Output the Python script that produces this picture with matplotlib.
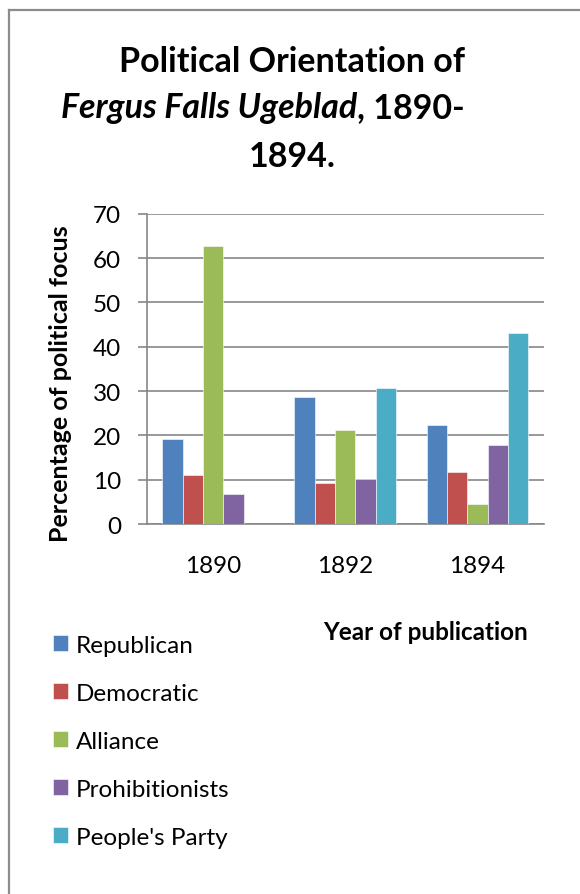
import numpy as np
import matplotlib
matplotlib.use("Agg")
import matplotlib.pyplot as plt
from matplotlib.lines import Line2D

plt.rcParams["font.family"] = ["Lato", "DejaVu Sans"]

years = ["1890", "1892", "1894"]
parties = ["Republican", "Democratic", "Alliance", "Prohibitionists", "People's Party"]
republican = [19.2, 28.6, 22.3]
democratic = [11.1, 9.3, 11.8]
alliance = [62.8, 21.2, 4.5]
prohibitionists = [6.8, 10.2, 17.9]
peoples_party = [0.0, 30.6, 43.2]
colors = ["#4F81BD", "#C0504D", "#9BBB59", "#8064A2", "#4BACC6"]

W, H = 580, 895
FS = 17.5
fig = plt.figure(figsize=(W / 100, H / 100), dpi=100)


def px(x, y):
    # pixel coords (top-left origin) -> figure fraction
    return x / W, 1 - y / H


# outer border (right/bottom edges fall outside the image)
fig.add_artist(Line2D([9 / W, 9 / W], [0, 1 - 11 / H], transform=fig.transFigure,
                      color="#8c8c8c", lw=1.6))
fig.add_artist(Line2D([9 / W, 1], [1 - 11 / H, 1 - 11 / H], transform=fig.transFigure,
                      color="#8c8c8c", lw=1.6))

ax_l, ax_t, ax_r, ax_b = 147, 214.7, 543.5, 525
ax = fig.add_axes([ax_l / W, 1 - ax_b / H, (ax_r - ax_l) / W, (ax_b - ax_t) / H])

series = [republican, democratic, alliance, prohibitionists, peoples_party]
x = np.arange(len(years))
bw = 1 / 6.5
for i, (vals, c, name) in enumerate(zip(series, colors, parties)):
    ax.bar(x + (i - 2) * bw, vals, width=bw, color=c, edgecolor="white",
           linewidth=0.4, label=name, zorder=3)

ax.set_xlim(-0.5, 2.5)
ax.set_ylim(0, 70)
ax.set_yticks(range(0, 71, 10))
ax.set_xticks(x)
ax.set_xticklabels(years)
ax.grid(axis="y", color="#878787", lw=1.2, zorder=0)
for s in ["top", "right"]:
    ax.spines[s].set_visible(False)
for s in ["left", "bottom"]:
    ax.spines[s].set_color("#878787")
    ax.spines[s].set_linewidth(1.2)
ax.tick_params(axis="y", length=6.5, width=1.2, color="#878787", labelsize=FS, pad=12)
ax.tick_params(axis="x", length=0, labelsize=FS, pad=22)

fig.text(*px(61, 384), "Percentage of political focus", rotation=90, ha="center",
         va="center", fontsize=18, fontweight="bold")
fig.text(*px(426, 632), "Year of publication", ha="center", va="center",
         fontsize=FS, fontweight="bold")

# title
TS = 24.5
fig.text(*px(292, 62), "Political Orientation of", ha="center", va="center",
         fontsize=TS, fontweight="bold")
fig.text(*px(292, 157), "1894.", ha="center", va="center",
         fontsize=TS, fontweight="bold")
t1 = fig.text(0, 1 - 108 / H, "Fergus Falls Ugeblad", ha="left", va="center",
              fontsize=TS, fontweight="bold", fontstyle="italic")
t2 = fig.text(0, 1 - 108 / H, ", 1890-", ha="left", va="center",
              fontsize=TS, fontweight="bold")
r = fig.canvas.get_renderer()
w1 = t1.get_window_extent(r).width
w2 = t2.get_window_extent(r).width
start = 263 - (w1 + w2) / 2
t1.set_x(start / W)
t2.set_x((start + w1) / W)

handles, labels = ax.get_legend_handles_labels()
fig.legend(handles, labels, loc="upper left", bbox_to_anchor=px(31, 614),
           frameon=False, fontsize=FS, handlelength=0.62, handleheight=0.62,
           handletextpad=0.33, labelspacing=1.11)

fig.savefig("out.png", dpi=100)
